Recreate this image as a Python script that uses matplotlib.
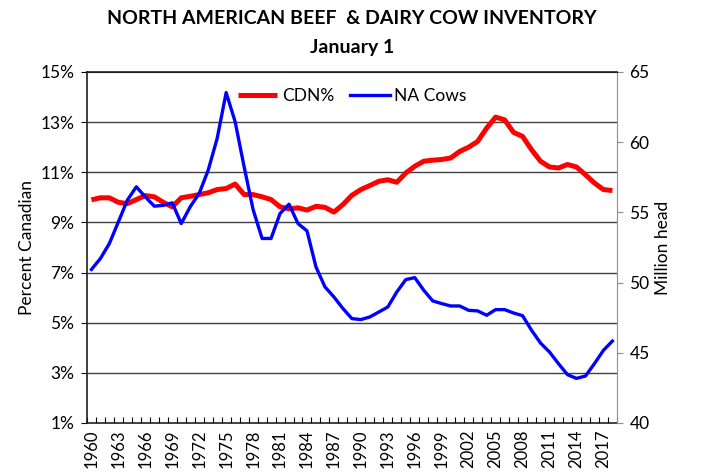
import matplotlib.pyplot as plt
import numpy as np

plt.rcParams['font.family'] = ['Lato', 'DejaVu Sans']

years = list(range(1960, 2019))

cdn_pct = [9.90, 9.98, 9.98, 9.80, 9.75, 9.91, 10.07, 10.02, 9.80, 9.62,
           9.98, 10.04, 10.11, 10.18, 10.31, 10.35, 10.53, 10.11, 10.11, 10.02,
           9.91, 9.62, 9.54, 9.58, 9.49, 9.64, 9.60, 9.41, 9.71, 10.08,
           10.31, 10.47, 10.64, 10.70, 10.60, 10.97, 11.24, 11.44, 11.48, 11.51,
           11.57, 11.83, 12.00, 12.23, 12.76, 13.20, 13.09, 12.59, 12.43, 11.90,
           11.44, 11.21, 11.17, 11.31, 11.21, 10.90, 10.57, 10.31, 10.27]

na_cows = [50.93, 51.71, 52.78, 54.32, 55.87, 56.82, 56.10, 55.44, 55.50, 55.68,
           54.20, 55.40, 56.35, 58.00, 60.27, 63.53, 61.46, 58.25, 55.20, 53.14,
           53.14, 54.92, 55.58, 54.20, 53.68, 51.11, 49.69, 48.97, 48.15, 47.43,
           47.36, 47.55, 47.90, 48.26, 49.33, 50.21, 50.35, 49.45, 48.69, 48.50,
           48.33, 48.33, 48.02, 47.98, 47.67, 48.07, 48.07, 47.83, 47.64, 46.60,
           45.69, 45.05, 44.22, 43.44, 43.17, 43.34, 44.22, 45.17, 45.83]

left_ticks = [1, 3, 5, 7, 9, 11, 13, 15]
right_ticks = [40, 45, 50, 55, 60, 65]

x = np.arange(len(years))

fig = plt.figure(figsize=(7.01, 4.72), dpi=100)
ax = fig.add_axes([0.124, 0.104, 0.756, 0.7435])
ax2 = ax.twinx()

for t in left_ticks[1:-1]:
    ax.axhline(t, color='#404040', lw=1.0, zorder=0)

l1, = ax.plot(x, cdn_pct, color='#ff0000', lw=3.6, solid_capstyle='butt', label='CDN%')
l2, = ax2.plot(x, na_cows, color='#0000ff', lw=2.4, label='NA Cows')

ax.set_xlim(-0.5, len(years) - 0.5)
ax.set_ylim(1, 15)
ax2.set_ylim(40, 65)

ax.set_yticks(left_ticks)
ax.set_yticklabels([f'{t}%' for t in left_ticks], fontsize=12.5)
ax2.set_yticks(right_ticks)
ax2.set_yticklabels([str(t) for t in right_ticks], fontsize=12.5)

lab_idx = [i for i, y in enumerate(years) if (y - 1960) % 3 == 0]
ax.set_xticks(lab_idx)
ax.set_xticklabels([str(years[i]) for i in lab_idx], rotation=90, fontsize=12)
ax.tick_params(axis='x', length=0, pad=5)
ax.set_xticks(np.arange(-0.5, len(years), 1), minor=True)
ax.tick_params(axis='x', which='minor', direction='in', length=4, width=0.8)

ax.tick_params(axis='y', direction='out', length=4, width=0.8, pad=5)
ax2.tick_params(axis='y', direction='out', length=4, width=0.8, color='#909090', pad=5)

for s in ['left', 'bottom', 'top']:
    ax.spines[s].set_color('#202020')
    ax.spines[s].set_linewidth(1.2)
ax.spines['right'].set_visible(False)
ax2.spines['left'].set_visible(False)
ax2.spines['bottom'].set_visible(False)
ax2.spines['top'].set_color('#202020')
ax2.spines['right'].set_color('#909090')

ax.set_ylabel('Percent Canadian', fontsize=12.5, labelpad=4)
ax2.set_ylabel('Million head', fontsize=12.5, labelpad=4)

ax2.legend([l1, l2], ['CDN%', 'NA Cows'], loc='upper center', ncol=2,
           frameon=False, fontsize=12.5, handlelength=2.3, columnspacing=0.9,
           bbox_to_anchor=(0.5, 0.998), handletextpad=0.25)

fig.text(0.502, 0.96, 'NORTH AMERICAN BEEF  & DAIRY COW INVENTORY', ha='center',
         va='center', fontsize=14, fontweight='bold')
fig.text(0.502, 0.9, 'January 1', ha='center', va='center', fontsize=14,
         fontweight='bold')

fig.savefig('out.png', dpi=100)
